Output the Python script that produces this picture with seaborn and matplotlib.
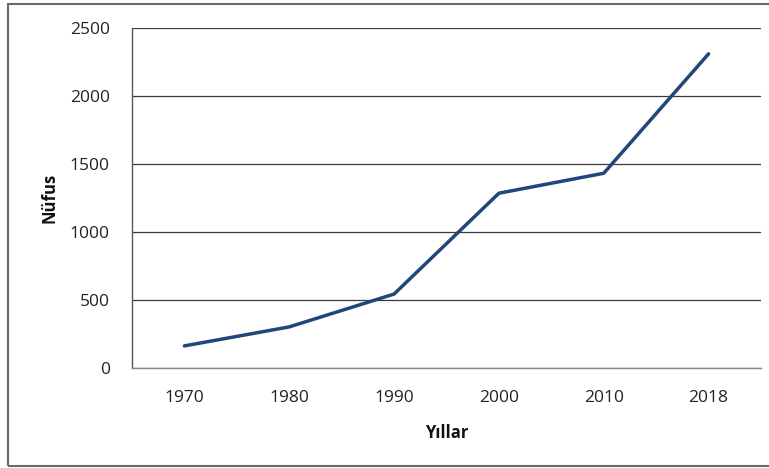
import pandas as pd
import seaborn as sns
import matplotlib.pyplot as plt
from matplotlib.patches import Rectangle

# Veriler
yillar = ['1970', '1980', '1990', '2000', '2010', '2018']
nufus = [160, 300, 542, 1285, 1432, 2312]

df = pd.DataFrame({'Yıllar': yillar, 'Nüfus': nufus})

sns.set_theme(style='white')
plt.rcParams['font.family'] = ['Open Sans', 'DejaVu Sans']

fig = plt.figure(figsize=(7.69, 4.68), dpi=100)
ax = fig.add_axes([0.1716, 0.2145, 0.8180, 0.7250])

sns.lineplot(data=df, x='Yıllar', y='Nüfus', color='#214679', linewidth=2.5,
             solid_capstyle='round', ax=ax)

ax.set_xlim(-0.5, len(yillar) - 0.5)
ax.set_ylim(0, 2500)
ax.set_yticks([0, 500, 1000, 1500, 2000, 2500])
ax.yaxis.grid(True, color='#3a3a3a', linewidth=0.9)
ax.set_axisbelow(True)

for s in ['top', 'right']:
    ax.spines[s].set_visible(False)
ax.spines['left'].set_color('#555555')
ax.spines['bottom'].set_color('#8a8a8a')
ax.spines['left'].set_linewidth(1.0)
ax.spines['bottom'].set_linewidth(1.0)

ax.tick_params(axis='both', length=0, labelsize=12.5, colors='#222222')
ax.tick_params(axis='y', pad=16)
ax.tick_params(axis='x', pad=16)

ax.set_xlabel('Yıllar', fontsize=12, fontweight='bold', labelpad=13, color='#111111')
ax.set_ylabel('Nüfus', fontsize=12, fontweight='bold', labelpad=8, color='#111111')

# Grafik alanı çerçevesi
fig.patches.append(Rectangle((8 / 769, 2 / 468), 1.0, 1 - 4 / 468 - 2 / 468,
                             transform=fig.transFigure, fill=False,
                             edgecolor='#6a6a6a', linewidth=1.5))

fig.savefig('out.png', dpi=100)
